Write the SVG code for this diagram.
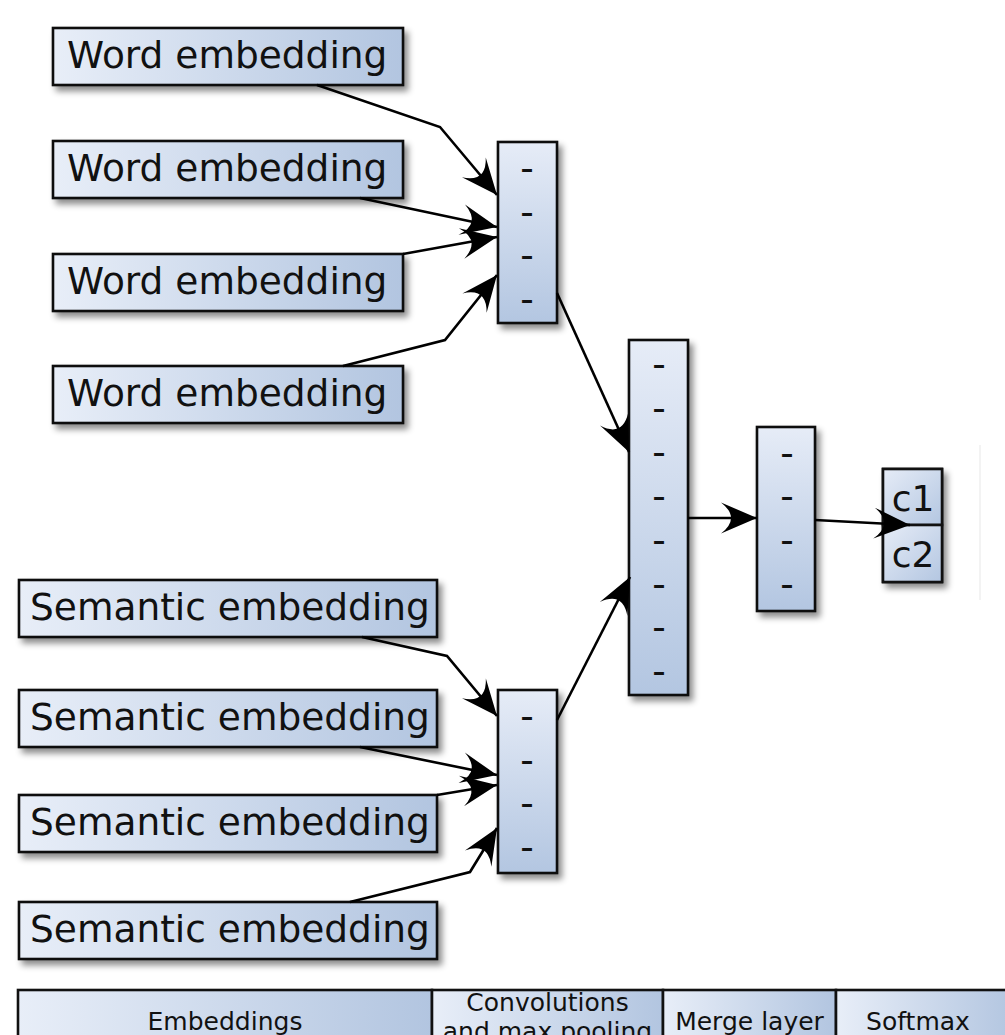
<svg xmlns="http://www.w3.org/2000/svg" width="1005" height="1035" viewBox="0 0 1005 1035">
  <defs>
    <linearGradient id="gH" x1="0" y1="0" x2="1" y2="0">
      <stop offset="0" stop-color="#e8eef8"/>
      <stop offset="1" stop-color="#b2c5e0"/>
    </linearGradient>
    <linearGradient id="gV" x1="0" y1="0" x2="0" y2="1">
      <stop offset="0" stop-color="#e6ecf7"/>
      <stop offset="1" stop-color="#b3c6e1"/>
    </linearGradient>
    <linearGradient id="gD" x1="0" y1="0" x2="1" y2="1">
      <stop offset="0" stop-color="#e6ecf7"/>
      <stop offset="1" stop-color="#b3c6e1"/>
    </linearGradient>
    <filter id="shadow" x="-20%" y="-20%" width="150%" height="150%">
      <feDropShadow dx="4" dy="5" stdDeviation="3" flood-color="#000" flood-opacity="0.45"/>
    </filter>
    <marker id="arrow" markerUnits="userSpaceOnUse" viewBox="-40 -18 42 36" refX="0" refY="0" markerWidth="42" markerHeight="36" orient="auto">
      <path d="M0,0 L-36,-15.5 Q-16,0 -36,15.5 Z" fill="#000"/>
    </marker>
    <style>
      .box { stroke: #111; stroke-width: 2.6; filter: url(#shadow); }
      .lbl { font-family: "DejaVu Sans", "Liberation Sans", sans-serif; font-size: 37.5px; fill: #111; }
      .dash { font-family: "DejaVu Sans", "Liberation Sans", sans-serif; font-size: 37.5px; fill: #111; text-anchor: middle; }
      .cls { font-family: "DejaVu Sans", "Liberation Sans", sans-serif; font-size: 36px; fill: #111; text-anchor: middle; }
      .hdr { font-family: "DejaVu Sans", "Liberation Sans", sans-serif; font-size: 25px; fill: #111; text-anchor: middle; }
      .edge { fill: none; stroke: #000; stroke-width: 2.6; stroke-linejoin: miter; marker-end: url(#arrow); }
      .cell { stroke: #111; stroke-width: 2.6; fill: url(#gH); }
    </style>
  </defs>

  <rect width="1005" height="1035" fill="#fff"/>
  <line x1="980" y1="445" x2="980" y2="600" stroke="#efefef" stroke-width="1.5"/>

  <!-- word embedding inputs -->
  <g id="word1"><rect class="box" x="53" y="28" width="350" height="57" fill="url(#gH)"/><text class="lbl" x="67" y="68">Word embedding</text></g>
  <g id="word2"><rect class="box" x="53" y="141" width="350" height="57" fill="url(#gH)"/><text class="lbl" x="67" y="181">Word embedding</text></g>
  <g id="word3"><rect class="box" x="53" y="254" width="350" height="57" fill="url(#gH)"/><text class="lbl" x="67" y="294">Word embedding</text></g>
  <g id="word4"><rect class="box" x="53" y="366" width="350" height="57" fill="url(#gH)"/><text class="lbl" x="67" y="406">Word embedding</text></g>

  <!-- semantic embedding inputs -->
  <g id="sem1"><rect class="box" x="19" y="580" width="418" height="57" fill="url(#gH)"/><text class="lbl" x="30" y="620">Semantic embedding</text></g>
  <g id="sem2"><rect class="box" x="19" y="690" width="418" height="57" fill="url(#gH)"/><text class="lbl" x="30" y="730">Semantic embedding</text></g>
  <g id="sem3"><rect class="box" x="19" y="795" width="418" height="57" fill="url(#gH)"/><text class="lbl" x="30" y="835">Semantic embedding</text></g>
  <g id="sem4"><rect class="box" x="19" y="902" width="418" height="57" fill="url(#gH)"/><text class="lbl" x="30" y="942">Semantic embedding</text></g>

  <!-- convolution + pooling vectors -->
  <g id="conv1">
    <rect class="box" x="498" y="142" width="59" height="181" fill="url(#gV)"/>
    <text class="dash" x="527" y="181">-</text>
    <text class="dash" x="527" y="224.5">-</text>
    <text class="dash" x="527" y="268">-</text>
    <text class="dash" x="527" y="311.5">-</text>
  </g>
  <g id="conv2">
    <rect class="box" x="498" y="690" width="59" height="183" fill="url(#gV)"/>
    <text class="dash" x="527" y="729">-</text>
    <text class="dash" x="527" y="773">-</text>
    <text class="dash" x="527" y="816">-</text>
    <text class="dash" x="527" y="860">-</text>
  </g>

  <!-- merge layer -->
  <g id="merge">
    <rect class="box" x="629" y="340" width="59" height="355" fill="url(#gV)"/>
    <text class="dash" x="659" y="377">-</text>
    <text class="dash" x="659" y="421">-</text>
    <text class="dash" x="659" y="465">-</text>
    <text class="dash" x="659" y="509">-</text>
    <text class="dash" x="659" y="553">-</text>
    <text class="dash" x="659" y="597">-</text>
    <text class="dash" x="659" y="640">-</text>
    <text class="dash" x="659" y="684">-</text>
  </g>
  <g id="hidden">
    <rect class="box" x="757" y="427" width="58" height="184" fill="url(#gV)"/>
    <text class="dash" x="787" y="466">-</text>
    <text class="dash" x="787" y="509">-</text>
    <text class="dash" x="787" y="553">-</text>
    <text class="dash" x="787" y="597">-</text>
  </g>

  <!-- softmax output -->
  <g id="softmax">
    <rect class="box" x="883" y="469" width="59" height="113" fill="url(#gD)"/>
    <rect x="883" y="469" width="59" height="56" fill="url(#gD)" stroke="#111" stroke-width="2.6"/>
    <rect x="883" y="525" width="59" height="57" fill="url(#gD)" stroke="#111" stroke-width="2.6"/>
    <text class="cls" x="913" y="511">c1</text>
    <text class="cls" x="913" y="567">c2</text>
  </g>

  <!-- connectors -->
  <g id="connectors">
    <path class="edge" d="M317,85 L440,127 L497,195"/>
    <path class="edge" d="M360,198 L497,227"/>
    <path class="edge" d="M403,254 L497,237"/>
    <path class="edge" d="M343,366 L445,340 L497,275"/>
    <path class="edge" d="M362,637 L447,656 L497,716"/>
    <path class="edge" d="M360,747 L497,775"/>
    <path class="edge" d="M437,795 L497,785"/>
    <path class="edge" d="M350,902 L470,872 L497,828"/>
    <path class="edge" d="M557,293 L629,452"/>
    <path class="edge" d="M557,720 L630,577"/>
    <path class="edge" d="M688,518 L757,518"/>
    <path class="edge" d="M815,520 L910,525"/>
  </g>

  <!-- stage legend (runs past the bottom edge) -->
  <g id="legend">
    <rect class="cell" x="18" y="990" width="414" height="80"/>
    <rect class="cell" x="432" y="990" width="231" height="80"/>
    <rect class="cell" x="663" y="990" width="173" height="80"/>
    <rect class="cell" x="836" y="990" width="180" height="80"/>
    <text class="hdr" x="225" y="1030">Embeddings</text>
    <text class="hdr" x="547.5" y="1011">Convolutions</text>
    <text class="hdr" x="547.5" y="1040">and max pooling</text>
    <text class="hdr" x="749.5" y="1030">Merge layer</text>
    <text class="hdr" x="918" y="1030">Softmax</text>
  </g>
</svg>
